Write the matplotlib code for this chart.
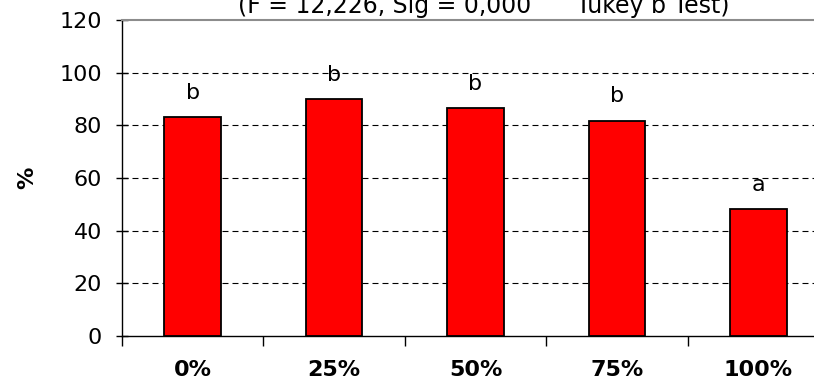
import matplotlib
matplotlib.use("Agg")
import matplotlib.pyplot as plt
import numpy as np

plt.rcParams.update({
    "font.family": "DejaVu Sans",
    "font.size": 16,
    "lines.scale_dashes": False,
})

categories = ["0%", "25%", "50%", "75%", "100%"]
values = [83.1, 89.9, 86.5, 81.8, 48.2]
letters = ["b", "b", "b", "b", "a"]
yticks = [0, 20, 40, 60, 80, 100, 120]
title = "(F = 12,226, Sig = 0,000      Tukey b Test)"

fig = plt.figure(figsize=(8.14, 3.83), dpi=100)
ax = fig.add_axes([122 / 814, 1 - 336 / 383, 707 / 814, 316 / 383])

x = np.arange(len(categories))

# 网格 (虚线) 放在柱子下面
for yv in yticks[1:-1]:
    ax.axhline(yv, color="black", linewidth=0.8, linestyle=(0, (4.3, 2.9)), zorder=1)

ax.bar(x, values, width=0.4, color="#FF0000", edgecolor="black", linewidth=1.3, zorder=3)

for xi, v, lt in zip(x, values, letters):
    ax.text(xi, v + 5.5, lt, ha="center", va="bottom", fontsize=16, zorder=4)

ax.set_xlim(-0.5, len(categories) - 0.5)
ax.set_ylim(0, 120)
ax.set_yticks(yticks)
ax.tick_params(axis="y", direction="inout", length=9, width=1, pad=10, labelsize=16)

# 主刻度: 类别边界; 次刻度: 类别标签
ax.set_xticks(np.arange(len(categories)) - 0.5)
ax.set_xticklabels([""] * len(categories))
ax.tick_params(axis="x", which="major", direction="out", length=7, width=1)
ax.set_xticks(x, minor=True)
ax.set_xticklabels(categories, minor=True, fontweight="bold", fontsize=16)
ax.tick_params(axis="x", which="minor", length=0, pad=17)

ax.set_ylabel("%", fontweight="bold", fontsize=16)
ax.yaxis.set_label_coords(-0.12, 0.5)

ax.spines["left"].set_linewidth(1)
ax.spines["bottom"].set_linewidth(1)
ax.spines["top"].set_color("#8c8c8c")
ax.spines["top"].set_linewidth(1.5)
ax.spines["right"].set_visible(False)

fig.text(484 / 814, 1 - 12.7 / 383, title, ha="center", va="baseline", fontsize=17)

fig.savefig("out.png", dpi=100)
